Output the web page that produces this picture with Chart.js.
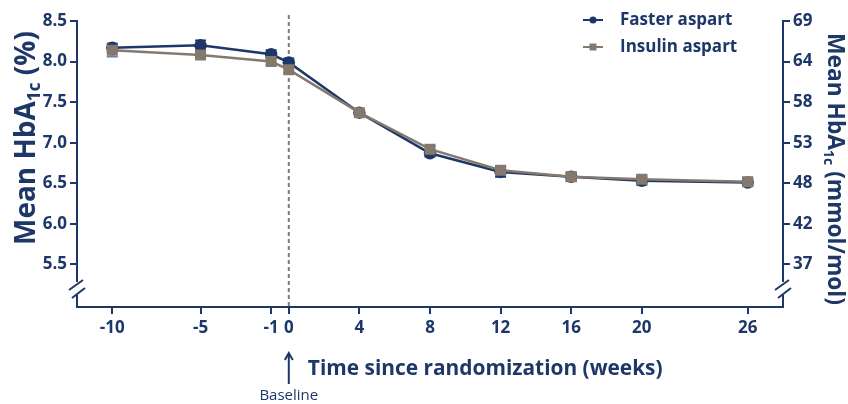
<!DOCTYPE html>
<html>
<head>
<meta charset="utf-8">
<script src="https://cdn.jsdelivr.net/npm/chart.js@4.4.1/dist/chart.umd.min.js"></script>
<style>
  html, body { margin: 0; padding: 0; background: #fff; }
  #wrap { width: 848px; height: 404px; position: relative; }
</style>
</head>
<body>
<div id="wrap"><canvas id="hba1cChart"></canvas></div>
<script>
// Weeks since randomization and mean HbA1c (%) per arm, with error bars
const weeks = [-10, -5, -1, 0, 4, 8, 12, 16, 20, 26];
const fasterMean = [8.17, 8.20, 8.09, 7.99, 7.37, 6.87, 6.64, 6.58, 6.53, 6.51];
const fasterErr = [0.05, 0.06, 0.05, 0.05, 0.03, 0.04, 0.06, 0.05, 0.05, 0.04];
const insulinMean = [8.14, 8.08, 8.00, 7.90, 7.37, 6.92, 6.66, 6.58, 6.55, 6.52];
const insulinErr = [0.08, 0.04, 0.04, 0.04, 0.03, 0.04, 0.05, 0.05, 0.05, 0.05];

const pctTicks = [5.5, 6.0, 6.5, 7.0, 7.5, 8.0, 8.5];
const mmolLabels = ['37', '42', '48', '53', '58', '64', '69'];

const NAVY = '#1d3768';
const GREY = '#85796e';
const FONT = "'Open Sans', sans-serif";

// error bars, baseline marker line
const underlayPlugin = {
    id: 'underlay',
    beforeDatasetsDraw(chart) {
        const { ctx, scales: { x, y } } = chart;
        ctx.save();
        // dashed line at week 0
        const x0 = x.getPixelForValue(0);
        ctx.strokeStyle = GREY;
        ctx.lineWidth = 2;
        ctx.setLineDash([4, 3]);
        ctx.beginPath();
        ctx.moveTo(x0, 15);
        ctx.lineTo(x0, chart.chartArea.bottom);
        ctx.stroke();
        ctx.setLineDash([]);

        const drawErr = (means, errs, color) => {
            ctx.strokeStyle = color;
            ctx.lineWidth = 1.8;
            weeks.forEach((w, i) => {
                const px = x.getPixelForValue(w);
                const top = y.getPixelForValue(means[i] + errs[i]);
                const bot = y.getPixelForValue(means[i] - errs[i]);
                ctx.beginPath();
                ctx.moveTo(px, top); ctx.lineTo(px, bot);
                ctx.moveTo(px - 5.5, top); ctx.lineTo(px + 5.5, top);
                ctx.moveTo(px - 5.5, bot); ctx.lineTo(px + 5.5, bot);
                ctx.stroke();
            });
        };
        drawErr(fasterMean, fasterErr, NAVY);
        drawErr(insulinMean, insulinErr, '#6f7fa0');
        ctx.restore();
    }
};

// font size that makes a text run span the given width
function fitSize(ctx, text, target, base) {
    ctx.font = `bold ${base}px ${FONT}`;
    return base * target / ctx.measureText(text).width;
}

function titleParts(unit, size) {
    return [
        { t: 'Mean HbA', s: size, dy: 0 },
        { t: '1c', s: size * 0.62, dy: size * 0.28 },
        { t: ' ' + unit, s: size, dy: 0 }
    ];
}

function measureParts(ctx, parts) {
    let total = 0;
    parts.forEach(p => { ctx.font = `bold ${p.s}px ${FONT}`; p.w = ctx.measureText(p.t).width; total += p.w; });
    return total;
}

function drawRotatedTitle(ctx, cx, cy, angle, unit, length) {
    const size = 24 * length / measureParts(ctx, titleParts(unit, 24));
    const parts = titleParts(unit, size);
    const total = measureParts(ctx, parts);
    ctx.save();
    ctx.translate(cx, cy);
    ctx.rotate(angle);
    ctx.fillStyle = NAVY;
    ctx.textBaseline = 'middle';
    ctx.textAlign = 'left';
    let pos = -total / 2;
    parts.forEach(p => {
        ctx.font = `bold ${p.s}px ${FONT}`;
        ctx.fillText(p.t, pos, p.dy);
        pos += p.w;
    });
    ctx.restore();
}

// titles, legend, axis breaks, baseline arrow
const overlayPlugin = {
    id: 'overlay',
    afterDraw(chart) {
        const { ctx, chartArea, scales: { x } } = chart;
        ctx.save();

        // axis breaks
        [chartArea.left, chartArea.right].forEach(ax => {
            ctx.fillStyle = '#fff';
            ctx.fillRect(ax - 3, 282, 6, 13);
            ctx.strokeStyle = NAVY;
            ctx.lineWidth = 2;
            ctx.beginPath();
            ctx.moveTo(ax - 8, 290); ctx.lineTo(ax + 6, 280);
            ctx.moveTo(ax - 5, 298); ctx.lineTo(ax + 8, 288);
            ctx.stroke();
        });

        // axis titles
        drawRotatedTitle(ctx, 27, 138, -Math.PI / 2, '(%)', 214);
        drawRotatedTitle(ctx, 834, 169, Math.PI / 2, '(mmol/mol)', 272);

        const x0 = x.getPixelForValue(0);
        const xTitle = 'Time since randomization (weeks)';
        ctx.fillStyle = NAVY;
        ctx.font = `bold ${fitSize(ctx, xTitle, 355, 22)}px ${FONT}`;
        ctx.textBaseline = 'middle';
        ctx.textAlign = 'left';
        ctx.fillText(xTitle, x0 + 19, 369);

        // baseline arrow
        ctx.strokeStyle = NAVY;
        ctx.lineWidth = 2;
        ctx.beginPath();
        ctx.moveTo(x0, 384); ctx.lineTo(x0, 354);
        ctx.moveTo(x0 - 4, 360); ctx.lineTo(x0, 353); ctx.lineTo(x0 + 4, 360);
        ctx.stroke();
        ctx.font = `15px ${FONT}`;
        ctx.textAlign = 'center';
        ctx.fillText('Baseline', x0, 396);

        // legend
        const legend = [
            { label: 'Faster aspart', color: NAVY, style: 'circle', y: 20 },
            { label: 'Insulin aspart', color: GREY, style: 'rect', y: 47 }
        ];
        legend.forEach(item => {
            ctx.strokeStyle = item.color;
            ctx.fillStyle = item.color;
            ctx.lineWidth = 2;
            ctx.beginPath();
            ctx.moveTo(583, item.y); ctx.lineTo(603, item.y);
            ctx.stroke();
            if (item.style === 'circle') {
                ctx.beginPath();
                ctx.arc(593, item.y, 3.5, 0, Math.PI * 2);
                ctx.fill();
            } else {
                ctx.fillRect(589.5, item.y - 3.5, 7, 7);
            }
            ctx.fillStyle = NAVY;
            ctx.font = `bold 17px ${FONT}`;
            ctx.textAlign = 'left';
            ctx.fillText(item.label, 620, item.y);
        });
        ctx.restore();
    }
};

const tickFont = { family: FONT, size: 17, weight: 'bold' };

new Chart(document.getElementById('hba1cChart'), {
    type: 'line',
    data: {
        datasets: [{
            label: 'Insulin aspart',
            data: weeks.map((w, i) => ({ x: w, y: insulinMean[i] })),
            borderColor: GREY,
            backgroundColor: GREY,
            borderWidth: 2.5,
            pointStyle: 'rect',
            pointRadius: 6,
            pointHoverRadius: 6,
            order: 0
        }, {
            label: 'Faster aspart',
            data: weeks.map((w, i) => ({ x: w, y: fasterMean[i] })),
            borderColor: NAVY,
            backgroundColor: NAVY,
            borderWidth: 2.5,
            pointStyle: 'circle',
            pointRadius: 5,
            pointHoverRadius: 5,
            order: 1
        }]
    },
    options: {
        responsive: true,
        maintainAspectRatio: false,
        animation: false,
        layout: { padding: { top: 21, left: 0, right: 0, bottom: 0 } },
        plugins: { legend: { display: false }, tooltip: { enabled: false } },
        scales: {
            x: {
                type: 'linear',
                min: -12,
                max: 28,
                afterBuildTicks: s => { s.ticks = weeks.map(v => ({ value: v })); },
                afterFit: s => { s.height = 97; },
                grid: { drawOnChartArea: false, color: NAVY, lineWidth: 2, tickLength: 7 },
                border: { color: NAVY, width: 2 },
                ticks: { color: NAVY, font: tickFont, padding: 4, maxRotation: 0, autoSkip: false }
            },
            y: {
                type: 'linear',
                position: 'left',
                min: 4.975,
                max: 8.5,
                afterBuildTicks: s => { s.ticks = pctTicks.map(v => ({ value: v })); },
                afterFit: s => { s.width = 77; },
                grid: { drawOnChartArea: false, color: NAVY, lineWidth: 2, tickLength: 7 },
                border: { color: NAVY, width: 2 },
                ticks: { color: NAVY, font: tickFont, padding: 3, callback: v => v.toFixed(1) }
            },
            y2: {
                type: 'linear',
                position: 'right',
                min: 4.975,
                max: 8.5,
                afterBuildTicks: s => { s.ticks = pctTicks.map(v => ({ value: v })); },
                afterFit: s => { s.width = 65; },
                grid: { drawOnChartArea: false, color: NAVY, lineWidth: 2, tickLength: 7 },
                border: { color: NAVY, width: 2 },
                ticks: { color: NAVY, font: tickFont, padding: 3, callback: (v, i) => mmolLabels[i] }
            }
        }
    },
    plugins: [underlayPlugin, overlayPlugin]
});
</script>
</body>
</html>
